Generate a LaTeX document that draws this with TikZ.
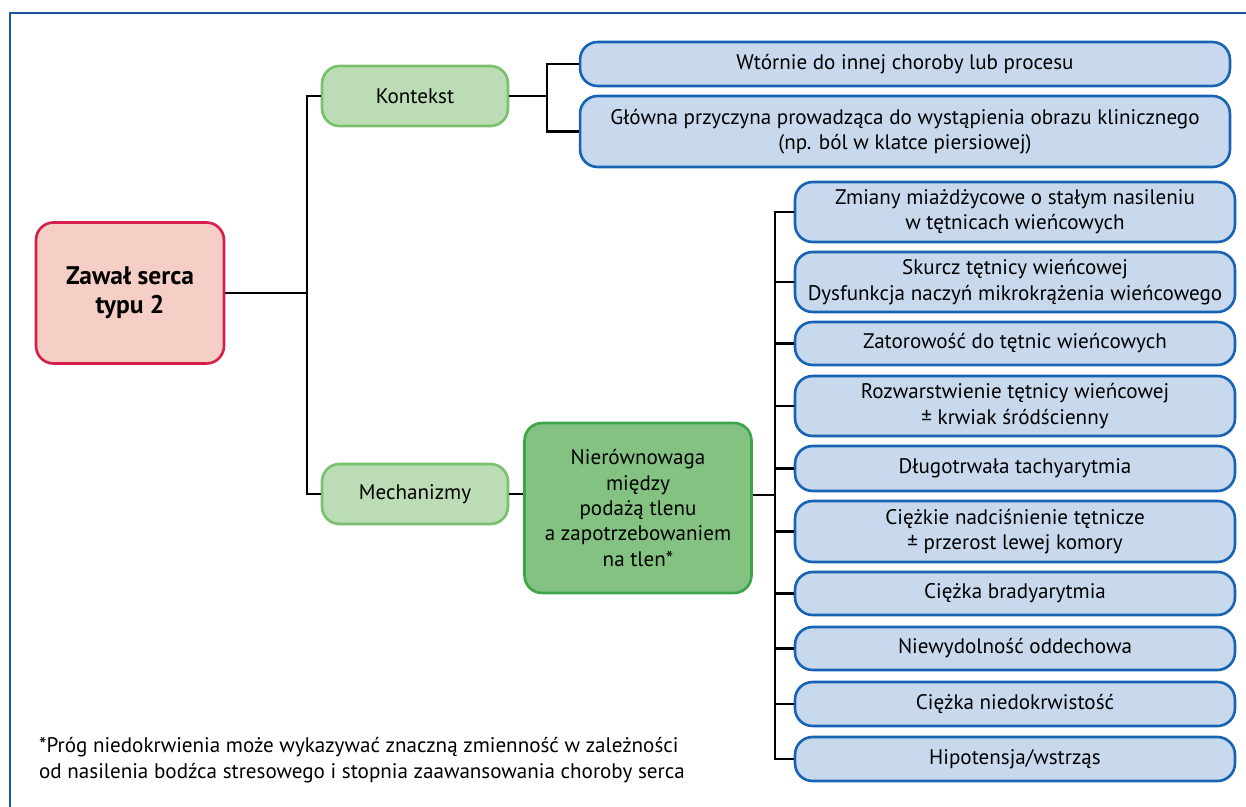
\documentclass[tikz,border=0pt]{standalone}
\usepackage{fontspec}
\setmainfont{PT Sans}
\definecolor{framecol}{RGB}{28,86,156}
\definecolor{causefill}{RGB}{200,217,238}
\definecolor{causeline}{RGB}{24,100,180}
\definecolor{mainfill}{RGB}{245,207,198}
\definecolor{mainline}{RGB}{214,30,74}
\definecolor{catfill}{RGB}{188,220,182}
\definecolor{catline}{RGB}{122,192,110}
\definecolor{imbfill}{RGB}{132,194,130}
\definecolor{imbline}{RGB}{58,166,72}
\begin{document}
\begin{tikzpicture}[x=.02cm, y=-.02cm, line width=1.3pt,
    box/.style={draw, rounded corners=.35cm, align=center, inner sep=2pt,
        line width=1.5pt, font=\fontsize{12}{14.4}\selectfont},
    cause/.style={box, draw=causeline, fill=causefill, minimum width=8.8cm},
    cat/.style={box, draw=catline, fill=catfill, minimum width=3.72cm, minimum height=1.2cm}]
\useasboundingbox (0,0) rectangle (1246,807);
\clip (0,0) rectangle (1246,807);
\draw[framecol, line width=1.7pt](10,830)--(10,13)--(1270,13);

\node[box, draw=mainline, fill=mainfill, minimum width=3.76cm, minimum height=2.82cm,
    font=\fontsize{14.5}{16.5}\selectfont\bfseries] (main) at (130,293) {Zawał serca\\typu 2};
\node[cat] (kont) at (415,96) {Kontekst};
\node[cat] (mech) at (415,494) {Mechanizmy};
\node[box, draw=imbline, fill=imbfill, minimum width=4.54cm, minimum height=3.4cm] (imb) at (638,508)
    {Nierównowaga\\między\\podażą tlenu\\a zapotrzebowaniem\\na tlen*};

\node[cause, minimum width=13cm, minimum height=.88cm] (ctx1) at (905,64)
    {Wtórnie do innej choroby lub procesu};
\node[cause, minimum width=13cm, minimum height=1.42cm] (ctx2) at (905,131.5)
    {Główna przyczyna prowadząca do wystąpienia obrazu klinicznego\\(np. ból w klatce piersiowej)};

\foreach \y/\h/\t [count=\i] in {
    212/1.2/{Zmiany miażdżycowe o stałym nasileniu\\w tętnicach wieńcowych},
    282/1.2/{Skurcz tętnicy wieńcowej\\Dysfunkcja naczyń mikrokrążenia wieńcowego},
    343.5/.86/{Zatorowość do tętnic wieńcowych},
    406/1.2/{Rozwarstwienie tętnicy wieńcowej\\± krwiak śródścienny},
    468.5/.9/{Długotrwała tachyarytmia},
    531.5/1.22/{Ciężkie nadciśnienie tętnicze\\± przerost lewej komory},
    593.5/.86/{Ciężka bradyarytmia},
    648.5/.86/{Niewydolność oddechowa},
    704/.88/{Ciężka niedokrwistość},
    759/.88/{Hipotensja/wstrząs}}
{
    \node[cause, minimum height=\h cm] (m\i) at (1015,\y) {\t};
}

% connectors
\coordinate (t1) at (307,293);
\draw(main.east)--(t1);
\draw(kont.west)-|(t1)|-(mech.west);
\coordinate (t2) at (547,96);
\draw(kont.east)--(t2);
\draw(ctx1.west)-|(t2)|-(ctx2.west);
\draw(mech.east)--(mech.east-|imb.west);
\coordinate (t3) at (775,495);
\draw(imb.east|-t3)--(t3);
\draw(m1.west)-|(t3)|-(m10.west);
\foreach \i in {2,...,9}
{
    \draw(m\i.west)--(m\i.west-|t3);
}

\node[anchor=north west, align=left, inner sep=0pt, font=\fontsize{12}{15}\selectfont] (note) at (38,736)
    {*Próg niedokrwienia może wykazywać znaczną zmienność w zależności\\od nasilenia bodźca stresowego i stopnia zaawansowania choroby serca};
\end{tikzpicture}
\end{document}
